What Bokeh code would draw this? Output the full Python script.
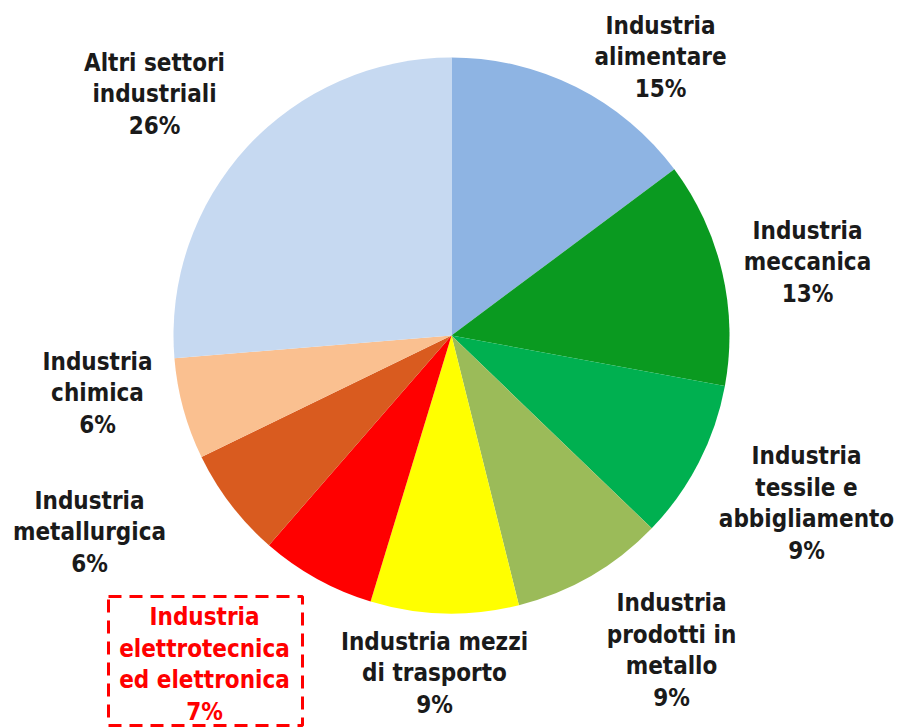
import math
from bokeh.plotting import figure
from bokeh.models import Range1d, ColumnDataSource
from bokeh.core.properties import value
from bokeh.embed import file_html
from bokeh.resources import INLINE

# ---- data (clockwise from 12 o'clock) ----
categories = [
    "Industria\nalimentare",
    "Industria\nmeccanica",
    "Industria\ntessile e\nabbigliamento",
    "Industria\nprodotti in\nmetallo",
    "Industria mezzi\ndi trasporto",
    "Industria\nelettrotecnica\ned elettronica",
    "Industria\nmetallurgica",
    "Industria\nchimica",
    "Altri settori\nindustriali",
]
shares = [14.8, 13.1, 9.3, 8.9, 8.6, 6.7, 6.4, 5.9, 26.3]
colors = ["#8EB4E3", "#0A9A20", "#00B050", "#9BBB59", "#FFFF00",
          "#FF0000", "#D95B1F", "#FAC090", "#C6D9F1"]

# label anchor positions (picture pixels)
label_x = [660, 807, 806, 671, 434, 204, 89, 97, 154]
label_y = [57, 262, 503, 650, 673, 664, 532, 393, 94]
label_color = ["#1A1A1A"] * 9
label_color[5] = "#FF0000"

W, H = 899, 728
TOP = H  # data y = TOP - picture y

total = sum(shares)
starts, ends = [], []
cum = 0.0
for s in shares:
    starts.append(math.pi / 2 - 2 * math.pi * cum / total)
    cum += s
    ends.append(math.pi / 2 - 2 * math.pi * cum / total)

src = ColumnDataSource(dict(start=starts, end=ends, color=colors))

p = figure(width=W, height=H, output_backend="svg", toolbar_location=None,
           x_range=Range1d(0, W), y_range=Range1d(0, H),
           min_border=0)
p.axis.visible = False
p.grid.visible = False
p.outline_line_color = None
p.background_fill_color = "white"

cx, cy, r = 451, TOP - 335, 278
p.wedge(x=cx, y=cy, radius=r, start_angle="start", end_angle="end",
        direction="clock", fill_color="color", line_color=None, source=src)

texts = [f"{c}\n{round(s)}%" for c, s in zip(categories, shares)]
lsrc = ColumnDataSource(dict(x=label_x, y=[TOP - v for v in label_y],
                             text=texts, color=label_color))
p.text(x="x", y="y", text="text", source=lsrc, text_align="center",
       text_baseline="middle", text_color="color",
       text_font=value("DejaVu Sans Condensed"), text_font_style="bold",
       text_font_size="24px", text_line_height=1.14)

# dashed highlight box around the electrotechnical label
p.quad(left=108, right=302, top=TOP - 596, bottom=TOP - 725,
       fill_color=None, line_color="#FF0000", line_width=3, line_dash="13 8")

open("out.html", "w").write(file_html(p, INLINE))
